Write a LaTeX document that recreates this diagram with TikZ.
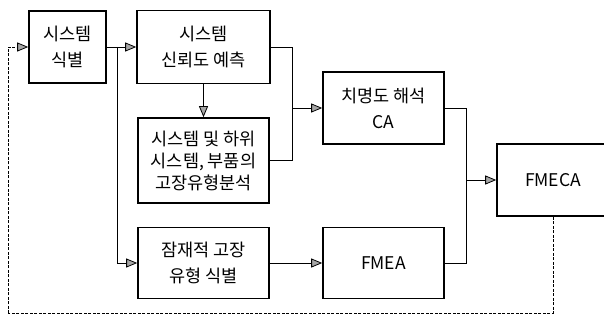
\documentclass[tikz,border=0pt]{standalone}
\usepackage{fontspec}
\setmainfont{Noto Sans CJK KR}
\usetikzlibrary{arrows.meta,calc}
\begin{document}
\begin{tikzpicture}[x=1pt,y=-1pt,
  box/.style={draw=black,line width=1.6pt,fill=white,align=center,inner sep=0pt,
    font=\fontsize{17.5}{26}\selectfont},
  conn/.style={draw=black,line width=0.8pt},
  arr/.style={conn,-{Triangle[length=11pt,width=9pt,fill=gray!70,line width=0.8pt]}},
  fb/.style={conn,dash pattern=on 3pt off 1.5pt}
]
\useasboundingbox (0,0) rectangle (604,323);
\node[box,minimum width=77pt,minimum height=72pt] (A) at (67.5,47) {시스템\\식별};
\node[box,minimum width=133pt,minimum height=73pt] (B) at (203.5,47) {시스템\\신뢰도 예측};
\node[box,minimum width=131pt,minimum height=85pt,font=\fontsize{17.5}{22}\selectfont] (C) at (203.5,160.5) {시스템 및 하위\\시스템, 부품의\\고장유형분석};
\node[box,minimum width=131pt,minimum height=71pt] (D) at (203.5,263) {잠재적 고장\\유형 식별};
\node[box,minimum width=121pt,minimum height=72pt] (E) at (383.5,108) {치명도 해석\\CA};
\node[box,minimum width=121pt,minimum height=71pt] (F) at (383.5,263) {FMEA};
\node[box,minimum width=112pt,minimum height=72pt] (G) at (553,180) {FMECA};
\coordinate (J1) at (117,47);
\coordinate (J2) at (292,108);
\coordinate (J3) at (466,180);
\coordinate (L1) at (8,313);
\draw[arr] (A.east) -- (B.west);
\draw[arr] (J1) |- (D.west);
\draw[arr] (B.south) -- (C.north);
\draw[conn] (B.east) -| (J2);
\draw[conn] (C.east) -| (J2);
\draw[arr] (J2) -- (E.west);
\draw[conn] (E.east) -| (J3);
\draw[conn] (F.east) -| (J3);
\draw[arr] (J3) -- (G.west);
\draw[arr] (D.east) -- (F.west);
\draw[fb] (G.south) |- (L1);
\draw[fb,-{Triangle[length=11pt,width=9pt,fill=gray!70,line width=0.8pt]}] (L1) |- (A.west);
\end{tikzpicture}
\end{document}
